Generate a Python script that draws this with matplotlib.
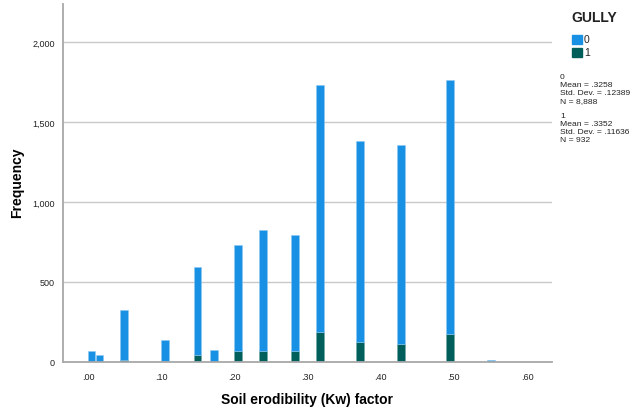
import matplotlib
matplotlib.use("Agg")
import matplotlib.pyplot as plt
import numpy as np

plt.rcParams['font.family'] = ['Liberation Sans', 'DejaVu Sans']

# Data
bin_centers = [0.0048, 0.0157, 0.049, 0.105, 0.1496, 0.172, 0.205, 0.239,
               0.283, 0.317, 0.372, 0.428, 0.4945, 0.551]
gully1 = [0, 0, 12, 5, 45, 3, 66, 70, 66, 190, 126, 111, 174, 0]
total = [66, 41, 324, 136, 595, 74, 730, 822, 795, 1730, 1378, 1357, 1761, 14]
gully0 = [t - g for t, g in zip(total, gully1)]

x_ticks = [0.0, 0.1, 0.2, 0.3, 0.4, 0.5, 0.6]
x_tick_labels = ['.00', '.10', '.20', '.30', '.40', '.50', '.60']
y_ticks = [0, 500, 1000, 1500, 2000]
y_tick_labels = ['0', '500', '1,000', '1,500', '2,000']

legend_title = 'GULLY'
legend_labels = ['0', '1']
stats_text = ("0\nMean = .3258\nStd. Dev. = .12389\nN = 8,888\n\n"
              "1\nMean = .3352\nStd. Dev. = .11636\nN = 932")

c0 = '#1890E4'
c1 = '#005F5A'

W, H = 638, 414
fig = plt.figure(figsize=(W / 100, H / 100), dpi=100)
left, right, top, bottom = 63, 551.7, 5, 363
ax = fig.add_axes([left / W, 1 - bottom / H, (right - left) / W, (bottom - top) / H])

bw = 0.0105
ax.bar(bin_centers, gully1, width=bw, color=c1, edgecolor='#6FA8A5', linewidth=0.4, zorder=3)
ax.bar(bin_centers, gully0, width=bw, bottom=gully1, color=c0, edgecolor='#8CC8F2',
       linewidth=0.4, zorder=3)

ax.set_xlim(-0.0342, 0.6337)
ax.set_ylim(0, 2237)
ax.set_xticks(x_ticks)
ax.set_xticklabels(x_tick_labels)
ax.set_yticks(y_ticks)
ax.set_yticklabels(y_tick_labels)
ax.tick_params(axis='both', length=0, labelsize=6.5, colors='#222222')
ax.tick_params(axis='y', pad=6)
ax.tick_params(axis='x', pad=7)

for y in y_ticks[1:]:
    ax.axhline(y, color='#C8C8C8', linewidth=1.0, zorder=1)

for s in ['top', 'right']:
    ax.spines[s].set_visible(False)
for s in ['left', 'bottom']:
    ax.spines[s].set_color('#A8A8A8')
    ax.spines[s].set_linewidth(1.3)
    ax.spines[s].set_zorder(4)

fig.text(307 / W, 1 - 400 / H, 'Soil erodibility (Kw) factor', fontsize=10, fontweight='bold',
         ha='center', va='center')
fig.text(17 / W, 1 - 183 / H, 'Frequency', fontsize=10, fontweight='bold',
         ha='center', va='center', rotation=90)

# Legend
fig.text(571 / W, 1 - 18 / H, legend_title, fontsize=10, fontweight='bold',
         ha='left', va='center', color='#222222')
for i, (lab, col) in enumerate(zip(legend_labels, [c0, c1])):
    yc = 40 + i * 13.3
    fig.patches.append(plt.Rectangle((572 / W, 1 - (yc + 4.5) / H), 10 / W, 9 / H,
                                     transform=fig.transFigure, color=col, figure=fig))
    fig.text(584 / W, 1 - yc / H, lab, fontsize=7.5, ha='left', va='center', color='#222222')

fig.text(560 / W, 1 - 74 / H, stats_text, fontsize=6.1, ha='left', va='top',
         linespacing=1.18, color='#222222')

fig.savefig('out.png', dpi=100)
